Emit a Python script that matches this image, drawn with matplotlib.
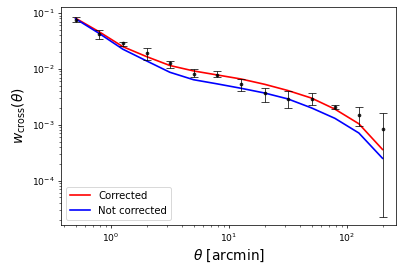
import numpy as np
import matplotlib.pyplot as plt

# Figure size in pixels / dpi.
DPI = 66
FIGSIZE = (402 / DPI, 273 / DPI)

# Angular bins [arcmin].
theta = [0.5, 0.79, 1.26, 2.0, 3.15, 5.0, 7.9, 12.6, 20.0, 31.5, 50.0, 79.0, 126.0, 200.0]

# Measured cross-correlation with errors (lower / upper bounds).
w_meas = [0.075, 0.0422, 0.0288, 0.0190, 0.0126, 0.0081, 0.0077, 0.0053, 0.0037, 0.0029, 0.0029, 0.0021, 0.0015, 0.00084]
w_low = [0.068, 0.034, 0.0261, 0.0145, 0.0103, 0.0071, 0.0071, 0.0041, 0.00254, 0.00200, 0.00228, 0.00195, 0.00096, 2.2e-5]
w_high = [0.0838, 0.0497, 0.0308, 0.0234, 0.0141, 0.0099, 0.0090, 0.0066, 0.00464, 0.0041, 0.00368, 0.00230, 0.00207, 0.00160]

# Model curves.
w_corr = [0.081, 0.0464, 0.0250, 0.0166, 0.0115, 0.0092, 0.0078, 0.0066, 0.0053, 0.0041, 0.0030, 0.0019, 0.00104, 0.00036]
w_nocorr = [0.0790, 0.0434, 0.0225, 0.0139, 0.0087, 0.0064, 0.0054, 0.0045, 0.0037, 0.0029, 0.0020, 0.0013, 0.00071, 0.00025]


def main():
    fig = plt.figure(figsize=FIGSIZE, dpi=DPI)
    ax = fig.add_axes([0.152, 0.176, 0.833, 0.798])

    y = np.array(w_meas)
    yerr = [y - np.array(w_low), np.array(w_high) - y]

    ax.plot(theta, w_corr, color='red', label='Corrected', lw=1.8)
    ax.plot(theta, w_nocorr, color='blue', label='Not corrected', lw=1.8)
    ax.errorbar(theta, y, yerr=yerr, fmt='.', color='k', ms=6,
                elinewidth=1, capsize=4, capthick=1, alpha=0.8)

    ax.set_xscale('log')
    ax.set_yscale('log')
    ax.set_xlim(0.377, 260)
    ax.set_ylim(1.6e-5, 0.128)
    ax.set_xlabel(r'$\theta$ [arcmin]', fontsize=15)
    ax.set_ylabel(r'$w_{\rm cross}(\theta)$', fontsize=15)
    ax.legend(loc='lower left', fontsize=11)

    fig.savefig('out.png', dpi=DPI)


if __name__ == "__main__":
    main()
